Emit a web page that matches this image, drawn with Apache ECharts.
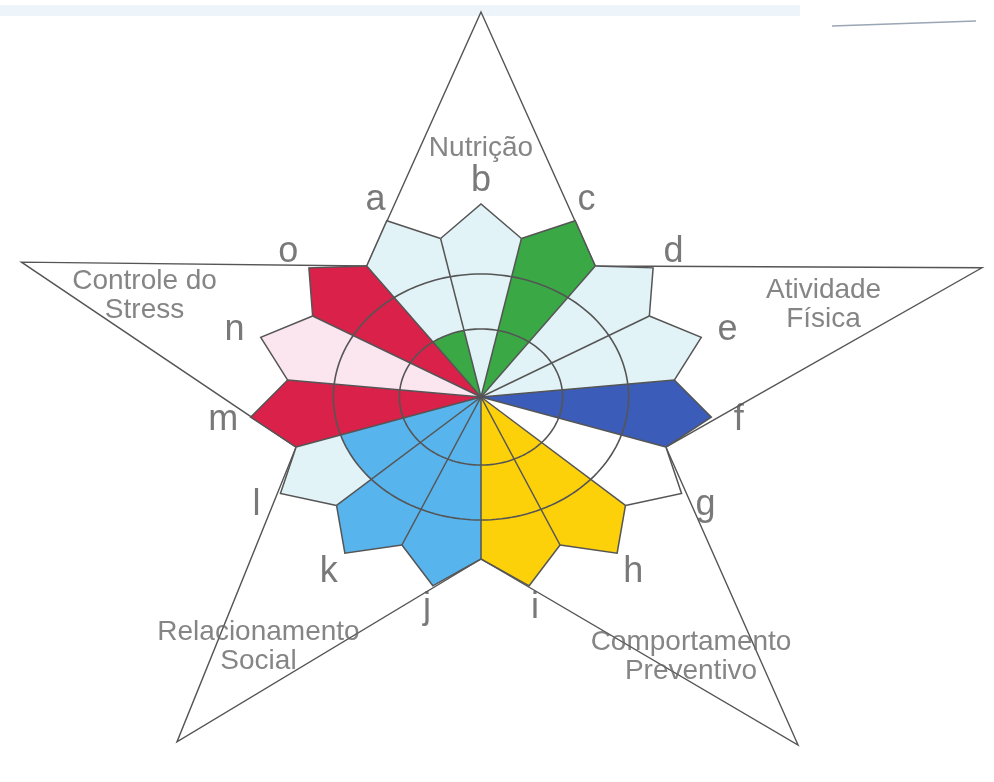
<!DOCTYPE html>
<html>
<head>
<meta charset="utf-8">
<title>Pentáculo do Bem-Estar</title>
<script src="https://cdn.jsdelivr.net/npm/echarts@6/dist/echarts.min.js"></script>
<style>
    html, body { margin: 0; padding: 0; background: #fff; }
    #chart { width: 994px; height: 782px; }
</style>
</head>
<body>
<div id="chart"></div>
<script>
// items a..o, clockwise, starting left of the top point
var sectors = ['a', 'b', 'c', 'd', 'e', 'f', 'g', 'h', 'i', 'j', 'k', 'l', 'm', 'n', 'o'];
// 0 = empty, 1 = inner ring, 2 = outer ring, 3 = whole petal
var scores = [1, 0, 3, 0, 0, 3, 0, 3, 3, 3, 3, 2, 3, 0, 3];
var dimensions = ['Nutrição', 'Atividade\nFísica', 'Comportamento\nPreventivo', 'Relacionamento\nSocial', 'Controle do\nStress'];
// scale of the rings (score 1 and 2), petal base and tip (score 3)
var ringRadius = [68, 123];
var petalBase = 162;
var petalTip = 193;
// the 5 star tips, clockwise from the top
var starTipRadius = [385, 437, 437, 428, 406];
var starTipAngle = [90, 17.2, -52.8, -126.3, 160.6];

// styles
var dimColors = ['#3aa945', '#3b5cb8', '#fdd10a', '#58b4ec', '#d92149'];
var petalTint = ['#e2f3f7', '#e2f3f7', '#e2f3f7', '#e2f3f7', '#e2f3f7', '#e2f3f7', '#ffffff',
                 '#e2f3f7', '#e2f3f7', '#e2f3f7', '#e2f3f7', '#e2f3f7', '#e2f3f7', '#fbe5ef', '#e2f3f7'];
var LINE = '#555555';
var FONT = '"Liberation Sans", Arial, sans-serif';

// layout: centre of the figure and the horizontal stretch of the scan
var CX = 481, CY = 397, SX = 1.2, W = 994, H = 782;
var LETTER_R = 216;
var DIM_LABEL_R = [249, 300, 313, 311, 298];
var DIM_LABEL_ANGLE = [90, 17.9, -56, -126.6, 160.2];

function sectorAngle(i) { return 114 - 24 * i; }
function pt(r, deg) {
    var a = deg * Math.PI / 180;
    return [r * Math.cos(a), r * Math.sin(a)];
}
function petalPoints(api, deg) {
    return [api.coord([0, 0]), api.coord(pt(petalBase, deg + 12)),
            api.coord(pt(petalTip, deg)), api.coord(pt(petalBase, deg - 12))];
}
function arcPoints(api, r, from, to, n) {
    var pts = [];
    for (var k = 0; k <= n; k++) pts.push(api.coord(pt(r, from + (to - from) * k / n)));
    return pts;
}

function renderStar(params, api) {
    var pts = [];
    for (var k = 0; k < 5; k++) {
        pts.push(api.coord(pt(starTipRadius[k], starTipAngle[k])));
        pts.push(api.coord(pt(petalBase, 90 - 72 * k - 36)));
    }
    return { type: 'polygon', shape: { points: pts }, style: { fill: 'none', stroke: LINE, lineWidth: 1.4 } };
}

function renderPetal(params, api) {
    var i = api.value(0), score = api.value(1), deg = sectorAngle(i);
    var color = dimColors[Math.floor(i / 3)];
    var children = [{ type: 'polygon', shape: { points: petalPoints(api, deg) }, style: { fill: petalTint[i] } }];
    if (score >= 3) {
        children.push({ type: 'polygon', shape: { points: petalPoints(api, deg) }, style: { fill: color } });
    } else if (score > 0) {
        var wedge = [api.coord([0, 0])].concat(arcPoints(api, ringRadius[score - 1], deg + 12, deg - 12, 24));
        children.push({ type: 'polygon', shape: { points: wedge }, style: { fill: color } });
    }
    return { type: 'group', children: children };
}

function renderOutline(params, api) {
    var deg = sectorAngle(api.value(0));
    var c = api.coord([0, 0]);
    var bL = api.coord(pt(petalBase, deg + 12));
    var tip = api.coord(pt(petalTip, deg));
    var bR = api.coord(pt(petalBase, deg - 12));
    return {
        type: 'group',
        children: [
            { type: 'polyline', shape: { points: [bL, tip, bR] }, style: { fill: null, stroke: LINE, lineWidth: 1.5 } },
            { type: 'line', shape: { x1: c[0], y1: c[1], x2: bL[0], y2: bL[1] }, style: { stroke: LINE, lineWidth: 1.5 } }
        ]
    };
}

function renderRing(params, api) {
    var pts = arcPoints(api, api.value(0), 0, 360, 180);
    return { type: 'polyline', shape: { points: pts }, style: { fill: null, stroke: LINE, lineWidth: 1.6 } };
}

var letterData = sectors.map(function (s, i) {
    return { name: s, value: pt(LETTER_R, sectorAngle(i)) };
});
var dimData = dimensions.map(function (d, k) {
    return { name: d, value: pt(DIM_LABEL_R[k], DIM_LABEL_ANGLE[k]) };
});

var chart = echarts.init(document.getElementById('chart'));
chart.setOption({
    animation: false,
    backgroundColor: '#ffffff',
    grid: { left: 0, right: 0, top: 0, bottom: 0 },
    xAxis: { type: 'value', min: -CX / SX, max: (W - CX) / SX, show: false },
    yAxis: { type: 'value', min: CY - H, max: CY, show: false },
    graphic: [
        { type: 'rect', shape: { x: 0, y: 5, width: 800, height: 11 }, style: { fill: '#eef5fa' }, z: -1 },
        { type: 'line', shape: { x1: 832, y1: 26, x2: 976, y2: 21 }, style: { stroke: '#9aa6b4', lineWidth: 1.5 } }
    ],
    series: [
        { type: 'custom', z: 1, silent: true, data: [[0, 0]], renderItem: renderStar },
        {
            type: 'custom', z: 2, silent: true,
            data: scores.map(function (v, i) { return [i, v]; }),
            renderItem: renderPetal
        },
        {
            type: 'custom', z: 3, silent: true,
            data: sectors.map(function (s, i) { return [i, 0]; }),
            renderItem: renderOutline
        },
        {
            type: 'custom', z: 4, silent: true,
            data: ringRadius.map(function (r) { return [r, 0]; }),
            renderItem: renderRing
        },
        {
            type: 'scatter', z: 5, silent: true, symbolSize: 1,
            itemStyle: { color: 'rgba(0,0,0,0)' },
            data: letterData,
            label: { show: true, position: 'inside', formatter: '{b}', fontSize: 36, color: '#585858', fontFamily: FONT }
        },
        {
            type: 'scatter', z: 5, silent: true, symbolSize: 1,
            itemStyle: { color: 'rgba(0,0,0,0)' },
            data: dimData,
            label: {
                show: true, position: 'inside', formatter: '{b}', fontSize: 28, lineHeight: 29,
                align: 'center', color: '#666666', fontFamily: FONT
            }
        }
    ]
});
</script>
</body>
</html>
